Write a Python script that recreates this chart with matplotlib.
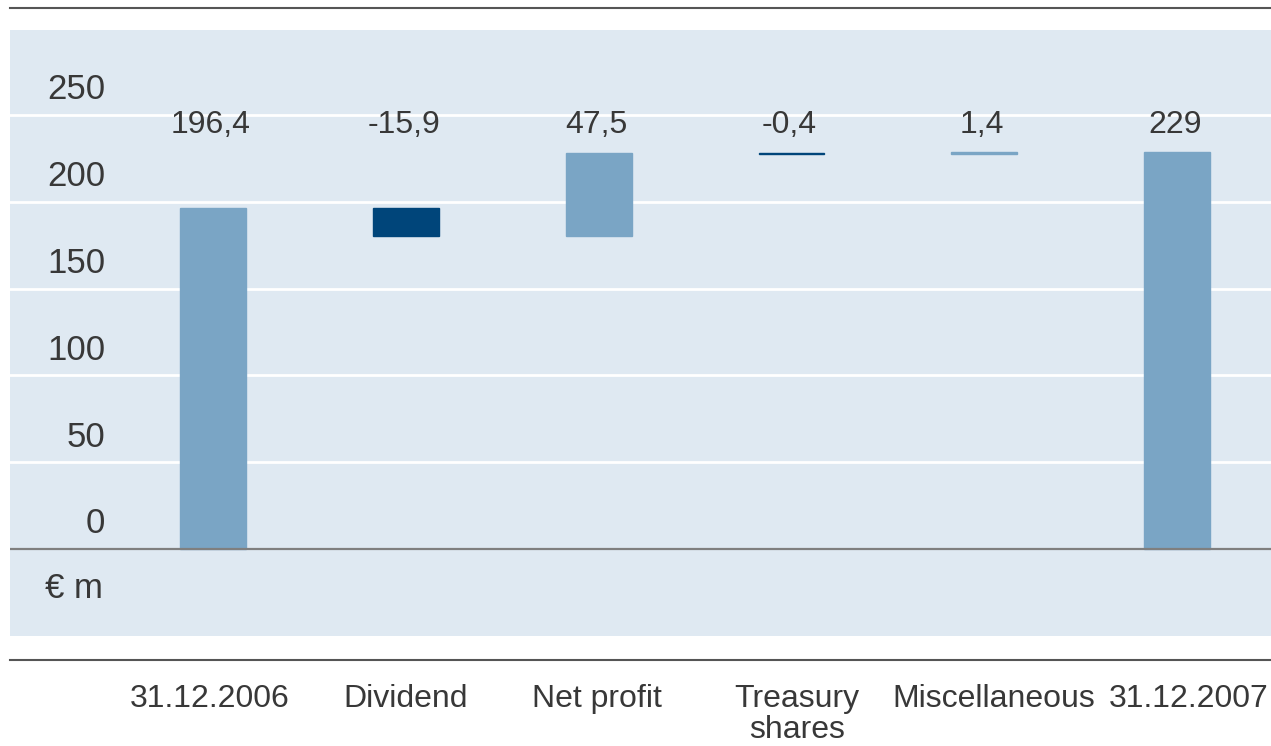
import matplotlib.pyplot as plt
from matplotlib.lines import Line2D

# Datos del gráfico (€ m)
categorias = ['31.12.2006', 'Dividend', 'Net profit', 'Treasury\nshares', 'Miscellaneous', '31.12.2007']
valores = [196.4, -15.9, 47.5, -0.4, 1.4, 229]
es_total = [True, False, False, False, False, True]
etiquetas = ['196,4', '-15,9', '47,5', '-0,4', '1,4', '229']
ticks_y = [0, 50, 100, 150, 200, 250]

color_claro = '#7aa5c5'
color_oscuro = '#00457a'
color_fondo = '#dfe9f2'
color_texto = '#383838'

plt.rcParams['font.family'] = ['Liberation Sans', 'DejaVu Sans']

W, H = 1271, 746
fig = plt.figure(figsize=(W / 100, H / 100), dpi=100)

# Ejes ocupando el panel azul (en píxeles)
izq, der, arriba, abajo = 10, 1271, 30, 636
ax = fig.add_axes([izq / W, 1 - abajo / H, (der - izq) / W, (abajo - arriba) / H])
ax.set_facecolor(color_fondo)

# Calcular bases de la cascada
bases = []
acumulado = 0
for v, total in zip(valores, es_total):
    if total:
        bases.append(0)
        acumulado = v
    else:
        bases.append(acumulado)
        acumulado += v

colores = [color_oscuro if v < 0 else color_claro for v in valores]
x = list(range(len(categorias)))

# Líneas de cuadrícula blancas y línea de cero
for t in ticks_y[1:]:
    ax.axhline(t, color='white', linewidth=2, zorder=1)
ax.axhline(0, color='#7f7f7f', linewidth=1.6, zorder=3)

ax.bar(x, valores, bottom=bases, width=0.342, color=colores,
       edgecolor=colores, linewidth=1, zorder=2)

# Etiquetas de valores sobre las barras (a altura fija)
for xi, txt in zip(x, etiquetas):
    ax.text(xi - 0.01, 244, txt, ha='center', va='center', fontsize=23, color=color_texto)

# Etiquetas del eje y dentro del panel
for t in ticks_y:
    ax.text(-0.56, t + 14.5, str(t), ha='right', va='center', fontsize=25, color=color_texto)
ax.text(-0.87, -22.5, '€ m', ha='left', va='center', fontsize=25, color=color_texto)

# Etiquetas de categorías debajo del panel (pequeño desplazamiento a la derecha en las últimas)
desplazamiento = [-0.02, 0, -0.01, 0.03, 0.05, 0.06]
for xi, cat, d in zip(x, categorias, desplazamiento):
    ax.text(xi + d, (abajo - 684) / (abajo - arriba), cat, transform=ax.get_xaxis_transform(),
            ha='center', va='top', fontsize=23, color=color_texto, linespacing=1.05)

ax.set_xlim(-1.053, 5.487)
ax.set_ylim(-50.1, 299)
ax.set_xticks([])
ax.set_yticks([])
for s in ax.spines.values():
    s.set_visible(False)

# Líneas horizontales superior e inferior
fig.add_artist(Line2D([izq / W, 1], [1 - 8 / H, 1 - 8 / H], color='#555555', linewidth=1.5))
fig.add_artist(Line2D([izq / W, 1], [1 - 660 / H, 1 - 660 / H], color='#555555', linewidth=1.5))

fig.savefig('out.png', dpi=100)
